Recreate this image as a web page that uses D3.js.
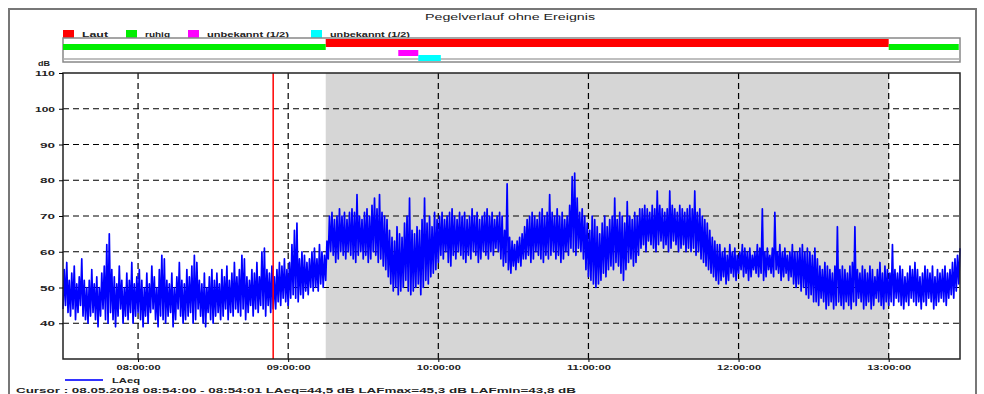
<!DOCTYPE html>
<html>
<head>
<meta charset="utf-8">
<script src="https://cdn.jsdelivr.net/npm/d3@7"></script>
<style>
  html, body { margin: 0; padding: 0; background: #fff; }
  svg { display: block; font-family: "Liberation Sans", Arial, sans-serif; }
  .grid line { stroke: #000; stroke-width: 1.2; stroke-dasharray: 6,4; }
  .axis text { font-size: 8px; fill: #222; font-weight: bold; }
</style>
</head>
<body>
<svg width="984" height="394"></svg>
<script>
const TITLE = 'Pegelverlauf ohne Ereignis';
const START = new Date(2018, 4, 8, 7, 30, 0);
const END = new Date(2018, 4, 8, 13, 28, 30);
const CURSOR = new Date(2018, 4, 8, 8, 54, 0);
const Y_TICKS = [40, 50, 60, 70, 80, 90, 100, 110];
const X_TICKS = [8, 9, 10, 11, 12, 13];

// marker periods [start, end] as hh:mm
const MARKERS = [
  { name: 'Laut', color: '#ff0000', row: 0, from: '09:15', to: '13:00' },
  { name: 'ruhig', color: '#00ee00', row: 1, from: '07:30', to: '09:15' },
  { name: 'ruhig', color: '#00ee00', row: 1, from: '13:00', to: '13:28' },
  { name: 'unbekannt (1/2)', color: '#ff00ff', row: 2, from: '09:44', to: '09:52' },
  { name: 'unbekannt (1/2)', color: '#00ffff', row: 3, from: '09:52', to: '10:01' }
];
const LEGEND = [
  { name: 'Laut', color: '#ff0000' },
  { name: 'ruhig', color: '#00ee00' },
  { name: 'unbekannt (1/2)', color: '#ff00ff' },
  { name: 'unbekannt (1/2)', color: '#00ffff' }
];
const SHADE = ['09:15', '13:00'];

// LAeq per minute from 07:30: low and high value of each minute (dB)
const LAEQ_LO = [
  44,45,43,42,44,41,43,45,42,41, 40,42,43,41,39,42,44,41,40,43,
  41,39,42,44,40,42,41,43,40,42, 43,41,39,42,40,43,44,41,39,42,
  41,40,42,43,39,41,44,42,40,41, 42,43,40,41,44,42,40,39,43,41,
  40,42,43,41,42,44,41,43,42,44, 43,42,44,41,43,45,42,44,43,45,
  44,42,45,43,44,
  44,46,45,47,46,45,47,48,47,46, 48,47,49,48,50,49,50,49,51,50,52,
  58,60,59,57,58,60,59,58,60,59, 58,57,59,60,58,59,57,58,60,59, 57,58,56,55,
  53,51,49,50,48,49,50,52,49,48, 49,50,51,48,50,52,51,53,54,55,
  57,59,58,60,57,56,59,58,60,59, 58,57,59,58,60,59,57,58,60,59, 58,60,59,61,60,58,
  56,57,55,54,56,55,57,56,58,
  58,59,57,58,60,59,58,57,59,58, 59,60,58,59,57,58,60,59,61,60, 59,61,60,58,
  55,53,52,51,50,51,52,54,53,55, 56,55,57,56,54,52,55,57,58,56,57,59,
  61,62,60,63,62,61,60,62,63,61, 62,60,61,63,62,60,61,62,60,61, 60,61,59,60,58,57,56,55,54,53,52,51,
  52,53,51,52,54,53,52,54,55,53, 54,52,53,55,54,53,54,52,53,55, 54,53,55,54,52,53,54,52,53,51, 50,51,49,50,48,47,48,46,
  46,45,47,46,44,45,46,44,45,46, 45,44,46,45,44,46,45,47,46,44, 45,46,44,45,47,46,45,44,46,45,
  46,45,47,46,45,44,46,45,47,46, 45,46,44,46,45,47,46,44,45,46, 47,46,45,47,48,47,49,51
];
const LAEQ_HI = [
  55,57,52,54,56,51,53,58,52,50, 52,55,51,53,50,54,56,62,65,55,
  53,51,56,52,50,54,52,57,51,53, 55,52,50,54,51,56,53,50,55,59,
  58,52,51,54,50,53,57,52,51,55, 53,56,59,57,52,51,54,50,53,55,
  52,54,51,55,53,56,52,54,57,53, 55,59,58,53,52,55,54,57,53,60,
  61,55,54,56,53,
  55,57,56,58,55,57,62,66,68,58, 60,59,57,58,60,61,58,62,60,59,63,
  70,71,69,70,72,70,71,69,71,72, 71,76,70,69,71,72,70,73,75,72, 76,71,70,69,
  66,64,63,67,65,64,68,70,75,66, 65,67,66,69,75,68,70,67,71,69,
  70,71,69,70,71,72,70,69,71,70, 71,69,70,72,70,71,69,70,71,72, 70,71,69,70,71,70,
  66,79,64,63,62,63,64,65,67,
  69,70,71,70,69,71,72,70,71,76, 71,70,72,70,71,69,70,73,81,82, 75,71,72,70,
  68,66,70,69,67,65,68,70,67,69, 70,75,69,71,70,68,74,70,69,71,70,72,
  72,73,72,71,73,72,77,73,72,71, 72,77,73,72,71,73,72,71,72,73, 72,77,71,72,70,69,68,66,64,63,62,62,
  60,61,59,62,60,61,59,60,62,61, 60,61,59,60,62,61,72,60,61,59, 61,71,60,62,60,61,59,60,62,60, 60,61,62,60,61,60,59,61,
  58,56,55,57,56,55,54,56,67,55, 56,55,54,56,57,67,55,54,56,55, 54,56,55,53,55,57,54,56,55,54,
  62,55,54,56,55,53,54,56,55,57, 55,53,54,56,55,54,56,53,55,54, 55,56,54,55,57,58,59,61
];

const svg = d3.select('svg');
const plot = { left: 63, right: 960, top: 73, bottom: 359 };
const band = { top: 38, bottom: 62 };

const atTime = (hhmm) => {
  const [h, m] = hhmm.split(':').map(Number);
  return new Date(2018, 4, 8, h, m, 0);
};

// the source text is wide and low, so stretch glyphs to a given width
const stretch = (sel, w) => sel.attr('textLength', w).attr('lengthAdjust', 'spacingAndGlyphs');

const x = d3.scaleTime().domain([START, END]).range([plot.left, plot.right]);
const y = d3.scaleLinear().domain([30, 110]).range([plot.bottom, plot.top]);

// outer frame
svg.append('rect')
  .attr('x', 9).attr('y', 9).attr('width', 967).attr('height', 400)
  .attr('fill', 'none').attr('stroke', '#777').attr('stroke-width', 2);

svg.append('text')
  .attr('x', 425).attr('y', 20)
  .attr('font-size', 8.5).attr('fill', '#222')
  .text(TITLE)
  .call(stretch, 170);

// top legend
const legendX = [63, 126, 188, 311];
const legendW = [26, 25, 82, 80];
const lg = svg.selectAll('.legend')
  .data(LEGEND)
  .join('g')
    .attr('class', 'legend')
    .attr('transform', (d, i) => `translate(${legendX[i]},30)`);
lg.append('rect').attr('width', 11).attr('height', 8).attr('fill', (d) => d.color);
lg.append('text')
  .attr('x', 19).attr('y', 7).attr('font-size', 7.5).attr('font-weight', 'bold').attr('fill', '#222')
  .text((d) => d.name)
  .attr('textLength', (d, i) => legendW[i]).attr('lengthAdjust', 'spacingAndGlyphs');

// marker band
svg.append('rect')
  .attr('x', plot.left).attr('y', band.top)
  .attr('width', plot.right - plot.left).attr('height', band.bottom - band.top)
  .attr('fill', '#fff').attr('stroke', '#888').attr('stroke-width', 1.5);
svg.append('line')
  .attr('x1', plot.left).attr('x2', plot.right)
  .attr('y1', band.bottom - 3).attr('y2', band.bottom - 3)
  .attr('stroke', '#aaa').attr('stroke-width', 1.5);

const rowY = [39, 44, 50, 55];
const rowH = [8, 6, 6, 6];
svg.selectAll('.marker')
  .data(MARKERS)
  .join('rect')
    .attr('class', 'marker')
    .attr('x', (d) => x(atTime(d.from)))
    .attr('width', (d) => x(atTime(d.to)) - x(atTime(d.from)))
    .attr('y', (d) => rowY[d.row])
    .attr('height', (d) => rowH[d.row])
    .attr('fill', (d) => d.color);

// shaded period
svg.append('rect')
  .attr('x', x(atTime(SHADE[0]))).attr('y', plot.top)
  .attr('width', x(atTime(SHADE[1])) - x(atTime(SHADE[0])))
  .attr('height', plot.bottom - plot.top)
  .attr('fill', '#d6d6d6');

// grid
const hourDates = X_TICKS.map((h) => new Date(2018, 4, 8, h, 0, 0));
const grid = svg.append('g').attr('class', 'grid');
grid.selectAll('.gy')
  .data(Y_TICKS.filter((v) => v < 110))
  .join('line')
    .attr('x1', plot.left).attr('x2', plot.right)
    .attr('y1', (d) => y(d)).attr('y2', (d) => y(d));
grid.selectAll('.gx')
  .data(hourDates)
  .join('line')
    .attr('x1', (d) => x(d)).attr('x2', (d) => x(d))
    .attr('y1', plot.top).attr('y2', plot.bottom);

// series
const points = [];
LAEQ_LO.forEach((lo, i) => {
  const t = d3.timeMinute.offset(START, i);
  points.push([t, lo]);
  points.push([d3.timeSecond.offset(t, 30), LAEQ_HI[i]]);
});
const lineFn = d3.line().x((p) => x(p[0])).y((p) => y(p[1]));
svg.append('path')
  .attr('d', lineFn(points))
  .attr('fill', 'none')
  .attr('stroke', '#0000ff')
  .attr('stroke-width', 1.7)
  .attr('stroke-linejoin', 'round');

// cursor
svg.append('line')
  .attr('x1', x(CURSOR)).attr('x2', x(CURSOR))
  .attr('y1', plot.top).attr('y2', plot.bottom)
  .attr('stroke', '#ff0000').attr('stroke-width', 1.5);

// plot frame
svg.append('rect')
  .attr('x', plot.left).attr('y', plot.top)
  .attr('width', plot.right - plot.left).attr('height', plot.bottom - plot.top)
  .attr('fill', 'none').attr('stroke', '#222').attr('stroke-width', 1.5);

// axes
svg.append('g')
  .attr('class', 'axis')
  .attr('transform', `translate(${plot.left},0)`)
  .call(d3.axisLeft(y).tickValues(Y_TICKS).tickSize(4).tickPadding(4))
  .call((g) => g.select('.domain').remove())
  .call((g) => g.selectAll('.tick text').each(function (d) {
    d3.select(this).call(stretch, d >= 100 ? 20 : 15);
  }));
svg.append('text')
  .attr('x', 50).attr('y', 66).attr('text-anchor', 'end')
  .attr('font-size', 7.5).attr('font-weight', 'bold').attr('fill', '#222').text('dB')
  .call(stretch, 12);

svg.append('g')
  .attr('class', 'axis')
  .attr('transform', `translate(0,${plot.bottom})`)
  .call(d3.axisBottom(x).tickValues(hourDates).tickFormat(d3.timeFormat('%H:%M:%S')).tickSize(3).tickPadding(2))
  .call((g) => g.select('.domain').remove())
  .call((g) => g.selectAll('.tick text').call(stretch, 44));

// bottom legend
svg.append('line')
  .attr('x1', 65).attr('x2', 103).attr('y1', 380).attr('y2', 380)
  .attr('stroke', '#3333ff').attr('stroke-width', 2);
svg.append('text')
  .attr('x', 112).attr('y', 383).attr('font-size', 7.5).attr('font-weight', 'bold').attr('fill', '#222').text('LAeq')
  .call(stretch, 28);

svg.append('text')
  .attr('x', 16).attr('y', 393).attr('font-size', 7.5).attr('font-weight', 'bold').attr('fill', '#222')
  .text('Cursor : 08.05.2018 08:54:00 - 08:54:01  LAeq=44,5 dB  LAFmax=45,3 dB  LAFmin=43,8 dB')
  .call(stretch, 560);
</script>
</body>
</html>
